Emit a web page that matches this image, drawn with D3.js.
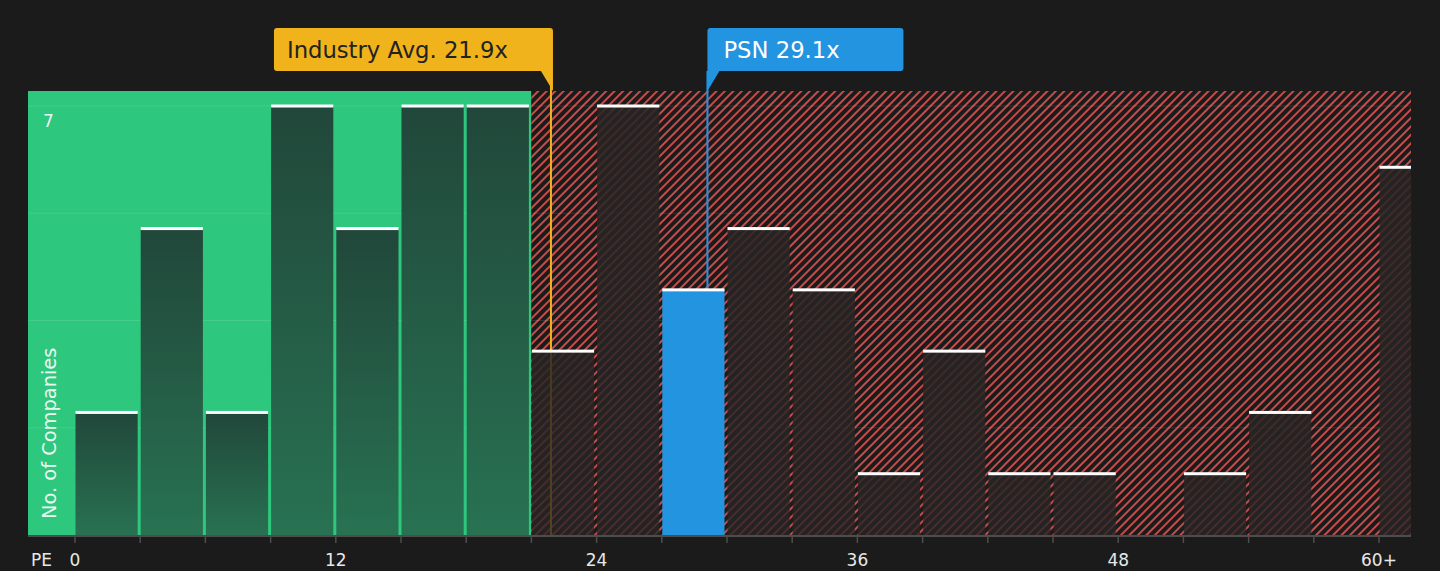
<!DOCTYPE html>
<html lang="en">
<head>
    <meta charset="UTF-8">
    <title>PE distribution</title>
    <script src="https://cdn.jsdelivr.net/npm/d3@7"></script>
    <style>
        html, body {
            margin: 0;
            padding: 0;
            background: #1b1b1b;
        }

        svg text {
            font-family: "DejaVu Sans", sans-serif;
        }
    </style>
</head>
<body>
<div id="chart"></div>
<script>
    // histogram bins (PE, 3 wide), last one is 60+
    const binStarts = [0, 3, 6, 9, 12, 15, 18, 21, 24, 27, 30, 33, 36, 39, 42, 45, 48, 51, 54, 57, 60]
    const counts = [2, 5, 2, 7, 5, 7, 7, 3, 7, 4, 5, 4, 1, 3, 1, 1, 0, 1, 2, 0, 6]
    const binWidth = 3

    const xTickValues = [0, 12, 24, 36, 48, 60]
    const xTickLabels = ['0', '12', '24', '36', '48', '60+']
    const yGridValues = [1.75, 3.5, 5.25, 7]
    const yTickValues = [7]

    const fairLimit = 21        // green zone ends here
    const industryAvg = 21.9
    const companyPE = 29.1
    const companyName = 'PSN'

    const width = 1440, height = 571
    const plot = {left: 28, right: 1411, top: 91, bottom: 535}

    const green = '#2ec77e', red = '#d9514f', orange = '#f0b31b', blue = '#2394e0'

    const x = d3.scaleLinear().domain([0, 60]).range([75, 1379])
    const y = d3.scaleLinear().domain([0, 7]).range([plot.bottom, 106])

    const svg = d3.select('#chart').append('svg')
        .attr('width', width).attr('height', height)
        .style('display', 'block')

    svg.append('rect').attr('width', width).attr('height', height).attr('fill', '#1b1b1b')

    const defs = svg.append('defs')

    const hatch = defs.append('pattern')
        .attr('id', 'hatch')
        .attr('patternUnits', 'userSpaceOnUse')
        .attr('width', 6).attr('height', 6)
        .attr('patternTransform', 'rotate(45)')
    hatch.append('rect').attr('width', 6).attr('height', 6).attr('fill', '#1b1b1b')
    hatch.append('line')
        .attr('x1', 1).attr('y1', 0).attr('x2', 1).attr('y2', 6)
        .attr('stroke', red).attr('stroke-width', 1.8)

    const gGreen = defs.append('linearGradient')
        .attr('id', 'barGreen').attr('x1', 0).attr('y1', 0).attr('x2', 0).attr('y2', 1)
    gGreen.append('stop').attr('offset', '0%').attr('stop-color', '#21473a')
    gGreen.append('stop').attr('offset', '100%').attr('stop-color', '#287252')

    const gRed = defs.append('linearGradient')
        .attr('id', 'barRed').attr('x1', 0).attr('y1', 0).attr('x2', 0).attr('y2', 1)
    gRed.append('stop').attr('offset', '0%').attr('stop-color', '#272424').attr('stop-opacity', 0.86)
    gRed.append('stop').attr('offset', '100%').attr('stop-color', '#272424').attr('stop-opacity', 0.78)

    defs.append('clipPath').attr('id', 'plotClip')
        .append('rect')
        .attr('x', plot.left).attr('y', plot.top)
        .attr('width', plot.right - plot.left).attr('height', plot.bottom - plot.top)

    // zones
    svg.append('rect')
        .attr('x', plot.left).attr('y', plot.top)
        .attr('width', x(fairLimit) - plot.left).attr('height', plot.bottom - plot.top)
        .attr('fill', green)
    svg.append('rect')
        .attr('x', x(fairLimit)).attr('y', plot.top)
        .attr('width', plot.right - x(fairLimit)).attr('height', plot.bottom - plot.top)
        .attr('fill', 'url(#hatch)')

    // grid
    svg.append('g').selectAll('line').data(yGridValues).enter().append('line')
        .attr('x1', plot.left).attr('x2', plot.right)
        .attr('y1', d => y(d)).attr('y2', d => y(d))
        .attr('stroke', '#ffffff').attr('stroke-opacity', 0.1).attr('stroke-width', 1)

    // reference lines (under the bars)
    svg.append('line')
        .attr('x1', x(industryAvg)).attr('x2', x(industryAvg))
        .attr('y1', 71).attr('y2', plot.bottom)
        .attr('stroke', orange).attr('stroke-width', 2)
    svg.append('line')
        .attr('x1', x(companyPE)).attr('x2', x(companyPE))
        .attr('y1', 71).attr('y2', plot.bottom)
        .attr('stroke', blue).attr('stroke-width', 2)

    // bars
    const bins = binStarts.map((s, i) => ({start: s, value: counts[i]}))
    const isCompanyBin = d => companyPE >= d.start && companyPE < d.start + binWidth
    const barW = x(binWidth) - x(0) - 3

    const bars = svg.append('g').attr('clip-path', 'url(#plotClip)')
        .selectAll('g.bar').data(bins.filter(d => d.value > 0)).enter()
        .append('g').classed('bar', true)

    bars.append('rect')
        .attr('x', d => x(d.start) + 0.5)
        .attr('y', d => y(d.value))
        .attr('width', barW)
        .attr('height', d => plot.bottom - y(d.value))
        .attr('fill', d => isCompanyBin(d) ? blue : (d.start < fairLimit ? 'url(#barGreen)' : 'url(#barRed)'))

    bars.append('rect')
        .attr('x', d => x(d.start) + 0.5)
        .attr('y', d => y(d.value) - 1.5)
        .attr('width', barW)
        .attr('height', 3)
        .attr('fill', '#ffffff')

    // x axis
    svg.append('line')
        .attr('x1', plot.left).attr('x2', plot.right)
        .attr('y1', plot.bottom + 1).attr('y2', plot.bottom + 1)
        .attr('stroke', '#4d4d4d').attr('stroke-width', 2)

    svg.append('g').selectAll('line').data(binStarts).enter().append('line')
        .attr('x1', d => x(d)).attr('x2', d => x(d))
        .attr('y1', plot.bottom + 1).attr('y2', plot.bottom + 8)
        .attr('stroke', '#4d4d4d').attr('stroke-width', 1.5)

    svg.append('g').selectAll('text').data(xTickValues).enter().append('text')
        .attr('x', d => x(d))
        .attr('y', 566)
        .attr('text-anchor', 'middle')
        .attr('font-size', 17)
        .attr('fill', '#e8e8e8')
        .text((d, i) => xTickLabels[i])

    svg.append('text')
        .attr('x', 31).attr('y', 566)
        .attr('font-size', 17).attr('fill', '#e8e8e8')
        .text('PE')

    // y labels
    svg.append('g').selectAll('text').data(yTickValues).enter().append('text')
        .attr('x', 43).attr('y', d => y(d) + 21)
        .attr('font-size', 17).attr('fill', '#eaf7f0')
        .text(d => d)

    svg.append('text')
        .attr('transform', 'translate(56, 519) rotate(-90)')
        .attr('font-size', 19.4).attr('fill', '#eaf7f0')
        .text('No. of Companies')

    // callouts
    const ix = x(industryAvg)
    svg.append('path')
        .attr('d', `M${ix - 277},31 Q${ix - 277},28 ${ix - 274},28 L${ix - 1},28 Q${ix + 2},28 ${ix + 2},31 ` +
            `L${ix + 2},${plot.top} L${ix - 10},71 L${ix - 274},71 Q${ix - 277},71 ${ix - 277},68 Z`)
        .attr('fill', orange)
    svg.append('text')
        .attr('x', ix - 264).attr('y', 58)
        .attr('font-size', 22.7).attr('fill', '#222222')
        .text(`Industry Avg. ${industryAvg}x`)

    const px = x(companyPE)
    svg.append('path')
        .attr('d', `M${px},31 Q${px},28 ${px + 3},28 L${px + 193},28 Q${px + 196},28 ${px + 196},31 ` +
            `L${px + 196},68 Q${px + 196},71 ${px + 193},71 L${px + 12},71 L${px},${plot.top} Z`)
        .attr('fill', blue)
    svg.append('text')
        .attr('x', px + 16).attr('y', 58)
        .attr('font-size', 22.7).attr('fill', '#ffffff')
        .text(`${companyName} ${companyPE}x`)
</script>
</body>
</html>
